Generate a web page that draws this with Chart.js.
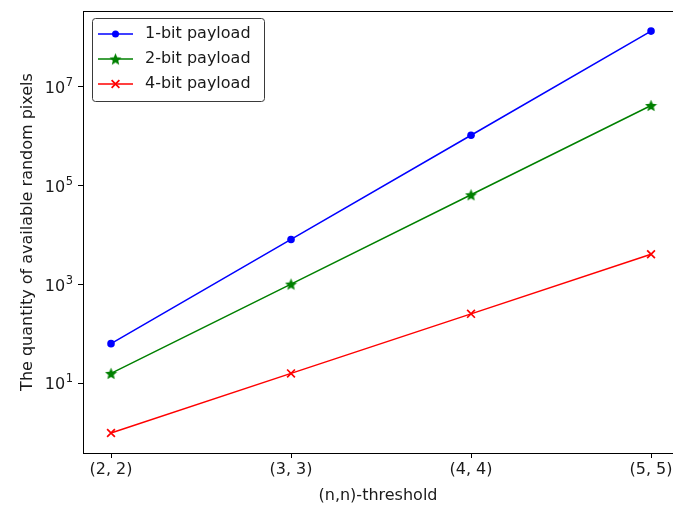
<!DOCTYPE html>
<html>
<head>
<meta charset="utf-8">
<script src="https://cdn.jsdelivr.net/npm/chart.js@4/dist/chart.umd.min.js"></script>
<style>
  html, body { margin: 0; padding: 0; background: #fff; overflow: hidden; }
  #wrap { width: 673px; height: 509px; }
</style>
</head>
<body>
<div id="wrap"><canvas id="c" width="673" height="509"></canvas></div>
<script>
// Threshold schemes on the x axis
const categories = ['(2, 2)', '(3, 3)', '(4, 4)', '(5, 5)'];
// Number of usable random pixels per payload size
const oneBit  = [64, 8192, 1048576, 134217728];
const twoBit  = [16, 1024, 65536, 4194304];
const fourBit = [1, 16, 256, 4096];
const seriesNames = ['1-bit payload', '2-bit payload', '4-bit payload'];
// Labelled decades on the log axis
const yTickValues = [10, 1e3, 1e5, 1e7];
const yTickExponents = ['1', '3', '5', '7'];

const FONT = 'DejaVu Sans';

// Filled five-point star marker
function makeStar(size, color) {
  const cv = document.createElement('canvas');
  cv.width = size; cv.height = size;
  const g = cv.getContext('2d');
  const cx = size / 2, cy = size / 2 + 0.6, R = size / 2 - 0.2, r = R * 0.45;
  g.beginPath();
  for (let i = 0; i < 10; i++) {
    const rad = i % 2 === 0 ? R : r;
    const a = -Math.PI / 2 + i * Math.PI / 5;
    const x = cx + rad * Math.cos(a), y = cy + rad * Math.sin(a);
    if (i === 0) g.moveTo(x, y); else g.lineTo(x, y);
  }
  g.closePath();
  g.fillStyle = color; g.fill();
  return cv;
}
const starImg = makeStar(13, '#008000');

const toPts = arr => arr.map((v, i) => ({ x: i, y: v }));

const datasets = [
  { label: seriesNames[0], data: toPts(oneBit), borderColor: '#0000ff', backgroundColor: '#0000ff',
    pointStyle: 'circle', pointRadius: 3.8, pointBorderWidth: 0, borderWidth: 1.5 },
  { label: seriesNames[1], data: toPts(twoBit), borderColor: '#008000', backgroundColor: '#008000',
    pointStyle: starImg, borderWidth: 1.5 },
  { label: seriesNames[2], data: toPts(fourBit), borderColor: '#ff0000', backgroundColor: '#ff0000',
    pointStyle: 'crossRot', pointRadius: 5.5, pointBorderWidth: 1.7, borderWidth: 1.5 }
];

// Frame around the plot area, tick labels and the legend box
const framePlugin = {
  id: 'frame',
  afterDraw(chart) {
    const { ctx, chartArea: a } = chart;
    ctx.save();
    ctx.strokeStyle = '#000'; ctx.lineWidth = 1;
    ctx.strokeRect(Math.round(a.left) + 0.5, Math.round(a.top) + 0.5,
                   Math.round(a.right - a.left) + 2, Math.round(a.bottom - a.top));

    ctx.fillStyle = '#1a1a1a';

    // x tick labels
    const xs = chart.scales.x;
    ctx.font = '16px "' + FONT + '"';
    ctx.textAlign = 'center'; ctx.textBaseline = 'top';
    categories.forEach((c, i) => {
      ctx.fillText(c, xs.getPixelForValue(i), a.bottom + 9);
    });

    // y tick labels as base 10 with a raised exponent
    const ys = chart.scales.y;
    ctx.textBaseline = 'alphabetic';
    yTickValues.forEach((v, k) => {
      const py = ys.getPixelForValue(v);
      ctx.font = '11.5px "' + FONT + '"';
      const ew = ctx.measureText(yTickExponents[k]).width;
      const right = a.left - 10;
      ctx.textAlign = 'left';
      ctx.fillText(yTickExponents[k], right - ew, py - 1);
      ctx.font = '16px "' + FONT + '"';
      const bw = ctx.measureText('10').width;
      ctx.fillText('10', right - ew - bw - 0.5, py + 6);
    });

    // legend
    const lx = 92.5, ly = 18.5, lw = 172, lh = 83, rr = 3;
    ctx.beginPath();
    ctx.moveTo(lx + rr, ly);
    ctx.arcTo(lx + lw, ly, lx + lw, ly + lh, rr);
    ctx.arcTo(lx + lw, ly + lh, lx, ly + lh, rr);
    ctx.arcTo(lx, ly + lh, lx, ly, rr);
    ctx.arcTo(lx, ly, lx + lw, ly, rr);
    ctx.closePath();
    ctx.fillStyle = 'rgba(255,255,255,0.85)'; ctx.fill();
    ctx.strokeStyle = '#3a3a3a'; ctx.lineWidth = 1; ctx.stroke();

    const rows = [34, 59, 84];
    chart.data.datasets.forEach((ds, i) => {
      const y = rows[i];
      ctx.strokeStyle = ds.borderColor; ctx.lineWidth = 1.5;
      ctx.beginPath(); ctx.moveTo(98, y); ctx.lineTo(133, y); ctx.stroke();
      const mx = 115.5;
      if (i === 0) {
        ctx.fillStyle = ds.backgroundColor;
        ctx.beginPath(); ctx.arc(mx, y, 3.5, 0, Math.PI * 2); ctx.fill();
      } else if (i === 1) {
        ctx.drawImage(starImg, mx - 6.5, y - 6.5);
      } else {
        ctx.lineWidth = 1.7;
        const d = 5.5 * Math.SQRT1_2;
        ctx.beginPath();
        ctx.moveTo(mx - d, y - d); ctx.lineTo(mx + d, y + d);
        ctx.moveTo(mx - d, y + d); ctx.lineTo(mx + d, y - d);
        ctx.stroke();
      }
      ctx.fillStyle = '#1a1a1a';
      ctx.font = '16px "' + FONT + '"';
      ctx.textBaseline = 'middle'; ctx.textAlign = 'left';
      ctx.fillText(ds.label, 145, y);
    });
    ctx.restore();
  }
};

new Chart(document.getElementById('c'), {
  type: 'line',
  data: { datasets },
  options: {
    responsive: false,
    animation: false,
    layout: { autoPadding: false, padding: { top: 11, right: 0, left: 0, bottom: 0 } },
    plugins: { legend: { display: false }, tooltip: { enabled: false } },
    scales: {
      x: {
        type: 'linear',
        // the plot runs past the right edge of the canvas
        min: -0.1556, max: 3.122,
        afterBuildTicks: s => { s.ticks = categories.map((_, i) => ({ value: i })); },
        afterFit: s => { s.height = 56; s.paddingLeft = 0; s.paddingRight = 0; },
        ticks: {
          // labels are painted by the frame plugin
          callback: () => '',
          font: { family: FONT, size: 16 }, padding: 4, maxRotation: 0
        },
        grid: { drawOnChartArea: false, drawTicks: true, tickLength: 5, color: '#000' },
        border: { display: true, color: '#000' },
        title: { display: true, text: '(n,n)-threshold', color: '#1a1a1a',
                 font: { family: FONT, size: 16 }, padding: { top: 2, bottom: 4 } }
      },
      y: {
        type: 'logarithmic',
        min: Math.pow(10, -0.406), max: Math.pow(10, 8.534),
        afterBuildTicks: s => { s.ticks = yTickValues.map(v => ({ value: v })); },
        afterFit: s => { s.width = 83; s.paddingTop = 0; s.paddingBottom = 0; },
        ticks: {
          // labels are painted by the frame plugin with a raised exponent
          callback: () => '',
          font: { family: FONT, size: 16 }, padding: 4
        },
        grid: { drawOnChartArea: false, drawTicks: true, tickLength: 5, color: '#000' },
        border: { display: true, color: '#000' },
        title: { display: true, text: 'The quantity of available random pixels', color: '#1a1a1a',
                 font: { family: FONT, size: 16 }, padding: { top: 18, bottom: 4 } }
      }
    }
  },
  plugins: [framePlugin]
});
</script>
</body>
</html>
